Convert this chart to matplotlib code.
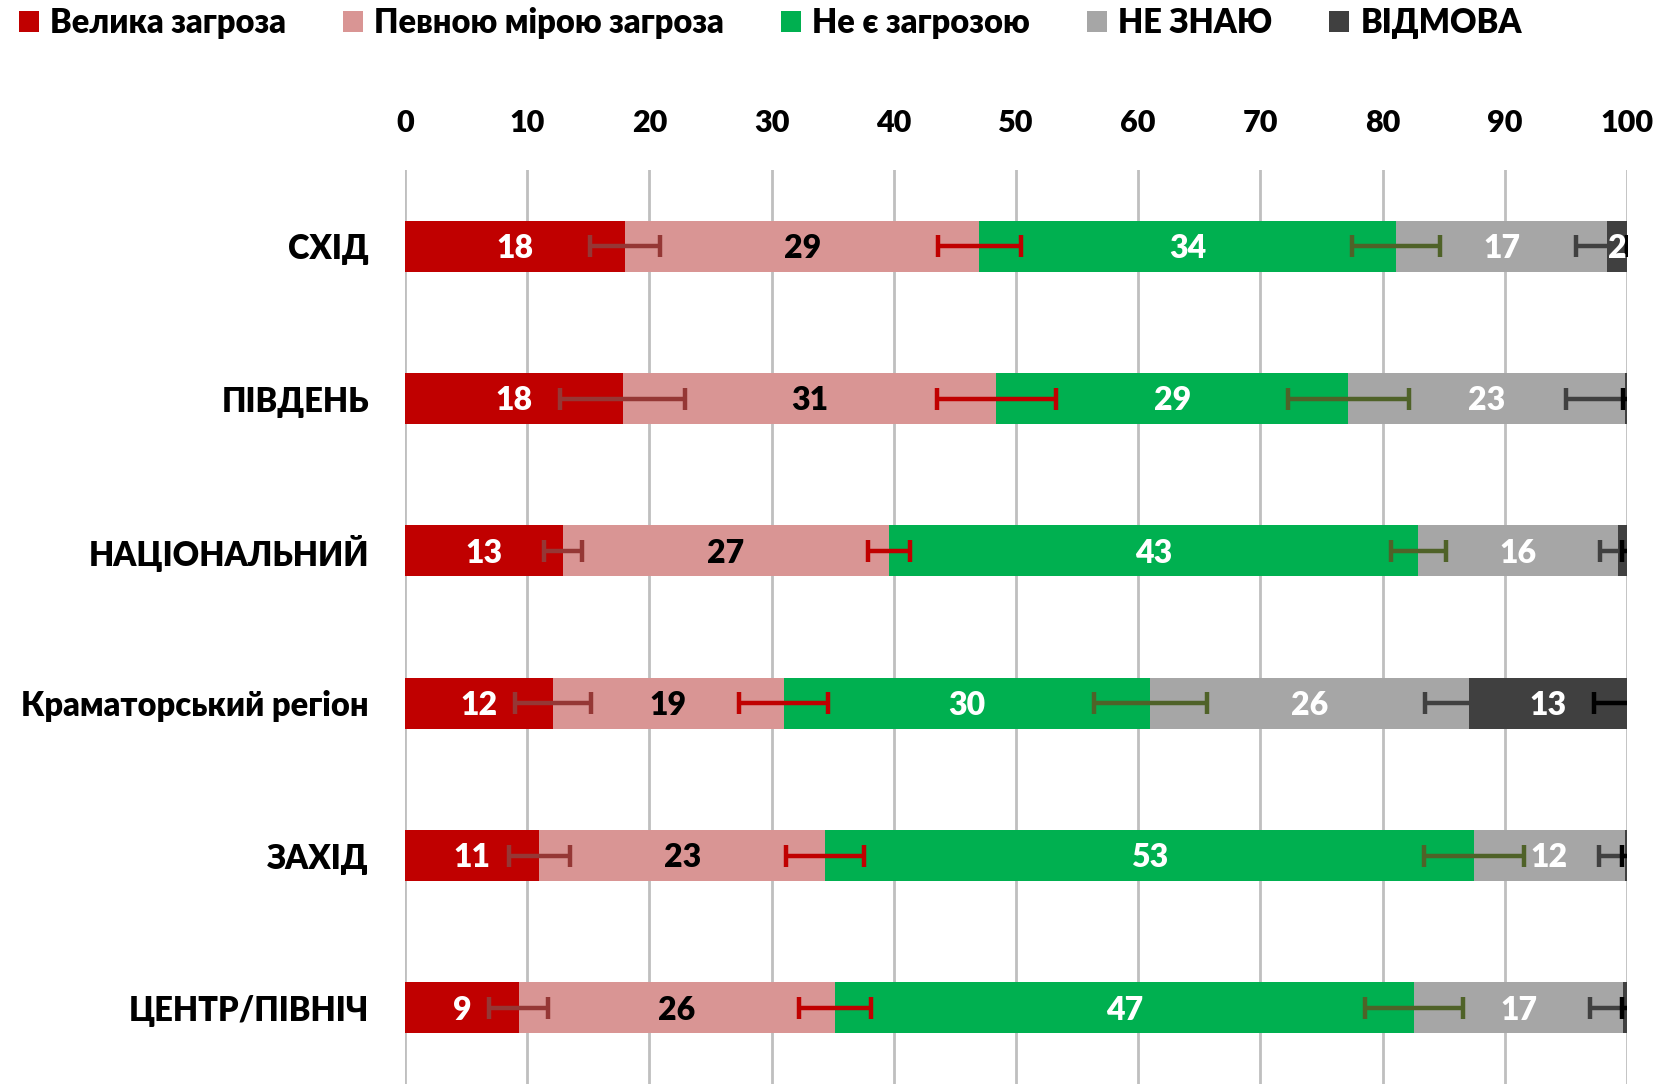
import matplotlib
matplotlib.use("Agg")
import matplotlib.pyplot as plt
import numpy as np

# ---------------- data ----------------
categories = ['СХІД', 'ПІВДЕНЬ', 'НАЦІОНАЛЬНИЙ', 'Краматорський регіон', 'ЗАХІД', 'ЦЕНТР/ПІВНІЧ']
series_names = ['Велика загроза', 'Певною мірою загроза', 'Не є загрозою', 'НЕ ЗНАЮ', 'ВІДМОВА']

big_threat  = [18.0, 17.8, 12.9, 12.1, 11.0, 9.3]
some_threat = [29.0, 30.6, 26.7, 18.9, 23.4, 25.9]
no_threat   = [34.1, 28.8, 43.3, 30.0, 53.1, 47.4]
dont_know   = [17.3, 22.6, 16.4, 26.1, 12.3, 17.1]
refusal     = [1.6, 0.2, 0.7, 12.9, 0.2, 0.3]

err_big   = [2.9, 5.1, 1.55, 3.1, 2.5, 2.4]
err_some  = [3.4, 4.85, 1.75, 3.65, 3.2, 2.95]
err_no    = [3.6, 4.95, 2.25, 4.6, 4.1, 4.0]
err_dk    = [2.6, 4.8, 1.5, 3.6, 2.1, 2.7]
err_ref   = [0.0, 0.3, 0.4, 2.7, 0.4, 0.4]

x_ticks = [0, 10, 20, 30, 40, 50, 60, 70, 80, 90, 100]

# ---------------- style ----------------
bar_colors = ['#C00000', '#D99594', '#00B050', '#A6A6A6', '#404040']
err_colors = ['#953735', '#C00000', '#4F6228', '#404040', '#000000']
label_colors = ['white', 'black', 'white', 'white', 'white']

W = 'heavy'
plt.rcParams['font.family'] = ['Lato', 'DejaVu Sans']
plt.rcParams['font.weight'] = W

fig = plt.figure(figsize=(16.63, 10.84), dpi=100)
ax = fig.add_axes([405 / 1663, 0.0, (1627 - 405) / 1663, 0.843])

values = [big_threat, some_threat, no_threat, dont_know, refusal]
errors = [err_big, err_some, err_no, err_dk, err_ref]

y = np.arange(len(categories))
left = np.zeros(len(categories))
handles = []
ends = []
for vals, col, name in zip(values, bar_colors, series_names):
    v = np.array(vals)
    h = ax.barh(y, v, left=left, height=0.335, color=col, label=name, zorder=2, linewidth=0)
    handles.append(h)
    left = left + v
    ends.append(left.copy())

# error bars at cumulative segment ends
for e_end, err, ecol in zip(ends, errors, err_colors):
    ax.errorbar(e_end, y, xerr=np.array(err), fmt='none', ecolor=ecol,
                elinewidth=3.2, capsize=8, capthick=3.2, zorder=3)

# data labels
start = np.zeros(len(categories))
for vals, lc in zip(values, label_colors):
    v = np.array(vals)
    for i in range(len(categories)):
        if v[i] >= 1.5:
            ax.text(start[i] + v[i] / 2, y[i] + 0.015, f"{v[i]:.0f}", ha='center', va='center',
                    color=lc, fontsize=23, fontweight=W, zorder=4)
    start = start + v

ax.set_xlim(0, 100)
ax.set_ylim(len(categories) - 0.5, -0.5)
ax.set_xticks(x_ticks)
ax.set_xticklabels([str(t) for t in x_ticks], fontsize=22, fontweight=W)
ax.xaxis.tick_top()
ax.tick_params(axis='x', length=0, pad=24)
ax.set_yticks(y)
ax.set_yticklabels(categories, fontsize=23.5, fontweight=W)
ax.tick_params(axis='y', length=0, pad=26)
ax.grid(axis='x', color='#BFBFBF', linewidth=2, zorder=0)
ax.set_axisbelow(True)
for s in ax.spines.values():
    s.set_visible(False)

fig.legend(handles=handles, labels=series_names, loc='center left',
           bbox_to_anchor=(19 / 1663, 1 - 23 / 1084), ncol=5, frameon=False,
           handlelength=0.6, handleheight=0.6, handletextpad=0.35,
           columnspacing=1.75, borderpad=0, borderaxespad=0,
           prop={'weight': W, 'size': 23.5})

fig.savefig('out.png', dpi=100)
